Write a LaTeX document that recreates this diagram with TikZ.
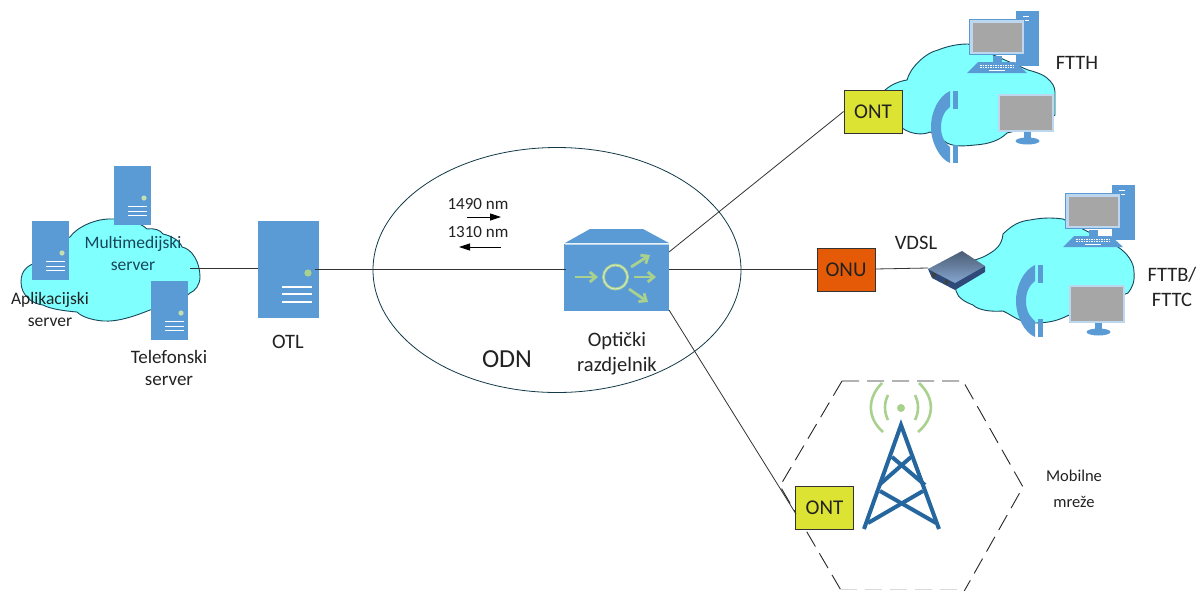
\documentclass[tikz,border=0pt]{standalone}
\usepackage{fontspec}
\setmainfont{Carlito}
\usetikzlibrary{arrows.meta,shapes.geometric}
\definecolor{iconblue}{HTML}{5B9BD5}
\definecolor{iconlight}{HTML}{BDD7EE}
\definecolor{icongreen}{HTML}{A9D18E}
\definecolor{cloudfill}{HTML}{80FFFF}
\definecolor{cloudline}{HTML}{17475A}
\definecolor{screen}{HTML}{A6A6A6}
\definecolor{towerblue}{HTML}{25669F}
\definecolor{ontyellow}{HTML}{DCE332}
\definecolor{onuorange}{HTML}{E55A06}
\definecolor{wire}{HTML}{333333}
\definecolor{ink}{HTML}{222222}
\definecolor{routertop}{HTML}{4A5C72}
\definecolor{routerlow}{HTML}{86A6D0}
\definecolor{routerside}{HTML}{2F4A78}
\tikzset{
  x=1pt,y=-1pt,
  wireline/.style={draw=wire,line width=0.8pt},
  cloudshape/.style={fill=cloudfill,draw=cloudline,line width=0.9pt},
  labeltext/.style={font=\fontsize{17.5}{22}\selectfont,text=ink,align=center,inner sep=0pt},
  bigtext/.style={font=\fontsize{20.5}{25}\selectfont,text=ink,align=center,inner sep=0pt},
  nmtext/.style={font=\fontsize{17}{20}\selectfont,text=ink,inner sep=0pt},
  unitbox/.style={draw=wire,line width=0.8pt,minimum width=58pt,minimum height=43pt,inner sep=0pt,font=\fontsize{21}{24}\selectfont,text=ink},
  blueface/.style={fill=iconblue,draw=none,inner sep=0pt},
  glyph/.style={draw=icongreen,line width=2.8pt},
  barb/.style={-{Straight Barb[length=6pt,width=10pt]}},
  signal/.style={draw=icongreen,line width=2.6pt},
  mast/.style={draw=towerblue,line width=4pt},
  cellside/.style={draw=black!85,line width=0.9pt,dash pattern=on 17pt off 8pt},
  flowarrow/.style={draw=black,line width=0.8pt,-{Triangle[length=11pt,width=7pt]}},
  pics/server/.style={code={
    \fill[iconblue] (0,0) rectangle (37,59);
    \fill[icongreen!70!white] (30,32) circle (2.6);
    \draw[white,line width=1pt] (14,40)--(33,40) (14,45)--(33,45) (14,49)--(33,49);
  }},
  pics/desktop/.style={code={
    \fill[iconblue] (47,0) rectangle (70,55);
    \draw[white,line width=1pt] (54,5)--(60,5) (54,9)--(60,9);
    \fill[iconblue] (0,8) rectangle (56,44);
    \fill[iconlight] (1,9) rectangle (55,43);
    \fill[screen] (4,12) rectangle (53,41);
    \fill[iconblue] (24,45) rectangle (33,51);
    \fill[iconblue] (-2,62) -- (9,51) -- (46,51) -- (58,62) -- cycle;
    \foreach \ky in {54,56.5}{\draw[white,line width=1pt,dash pattern=on 1.5pt off 1pt] (11,\ky)--(45,\ky);}
    \draw[white,line width=1pt] (20,59.5)--(36,59.5);
  }},
  pics/handset/.style={code={
    \fill[iconblue] (8,0) .. controls (-3,5) and (-11,20) .. (-11,36)
      .. controls (-11,52) and (-2,68) .. (8,72) -- (8,56)
      .. controls (1,50) and (-1,44) .. (-1,36)
      .. controls (-1,28) and (2,20) .. (8,16) -- cycle;
    \fill[iconblue] (11,0) rectangle (15.5,18);
    \fill[iconblue] (11,54) rectangle (15.5,72);
  }},
  pics/screenstand/.style={code={
    \fill[iconblue] (26,38) rectangle (33,44);
    \fill[iconblue] (29.5,47) ellipse (12 and 3.5);
    \fill[iconlight] (0,0) rectangle (56,38);
    \fill[screen] (2,2) rectangle (54,36);
  }},
}
\begin{document}
\begin{tikzpicture}
\useasboundingbox (0,0) rectangle (1200,590);
\fill[white] (0,0) rectangle (1200,590);

% distribution ellipse
\node[draw=cloudline!80!black,line width=0.8pt,ellipse,minimum width=368pt,minimum height=245pt,inner sep=0pt] (odn) at (557,270) {};

% clouds
\coordinate (cloudLeft) at (190,268);
\path[cloudshape] (21,282) .. controls (21,270) and (28,265) .. (38,262)
  .. controls (42,248) and (58,240) .. (70,237)
  .. controls (76,228) and (95,218) .. (113,219)
  .. controls (125,219) and (140,222) .. (147,229)
  .. controls (155,228) and (160,230) .. (163,234)
  .. controls (172,236) and (180,241) .. (182,247)
  .. controls (192,249) and (200,262) .. (200,277)
  .. controls (200,285) and (195,291) .. (190,293)
  .. controls (180,303) and (165,308) .. (150,310)
  .. controls (135,316) and (118,322) .. (103,321)
  .. controls (92,320) and (82,317) .. (77,312)
  .. controls (65,311) and (50,309) .. (43,305)
  .. controls (32,304) and (21,295) .. (21,282) -- cycle;
\path[cloudshape] (885,90) .. controls (892,84) and (900,81) .. (907,80)
  .. controls (910,68) and (925,53) .. (938,50)
  .. controls (948,46) and (958,44) .. (968,44)
  -- (1028,70) .. controls (1036,72) and (1044,75) .. (1047,78)
  .. controls (1052,82) and (1055,87) .. (1055,92)
  -- (1055,115) .. controls (1040,125) and (1020,130) .. (1007,133)
  .. controls (1000,140) and (990,144) .. (975,145)
  .. controls (965,146) and (955,147) .. (947,143)
  .. controls (942,140) and (936,134) .. (930,132)
  .. controls (924,135) and (912,135) .. (902,128) -- (890,110) -- cycle;
\path[cloudshape] (965,263) .. controls (975,260) and (982,258) .. (987,255)
  .. controls (996,250) and (1002,245) .. (1003,234)
  .. controls (1012,225) and (1020,221) .. (1030,220)
  .. controls (1045,217) and (1055,218) .. (1063,219)
  -- (1118,247) .. controls (1127,253) and (1134,262) .. (1134,272)
  .. controls (1135,282) and (1132,288) .. (1128,293)
  -- (1067,316) .. controls (1055,322) and (1045,323) .. (1033,323)
  .. controls (1020,323) and (1012,315) .. (1003,311)
  .. controls (990,312) and (978,310) .. (973,305)
  .. controls (965,302) and (958,298) .. (956,291) -- (955,280) -- cycle;

% mobile cell
\draw[cellside] (842,381) -- (963,381) -- (1023,487) -- (962,595);
\draw[cellside] (842,381) -- (780,486) -- (842,592);
\draw[cellside,draw=black!15] (840,589) -- (965,589);

% boxes and icons that carry connectors
\node[blueface,minimum width=61pt,minimum height=97pt] (otl) at (288.5,269.5) {};
\coordinate (otlPort) at (308,273);
\coordinate (otlOut) at (315,269);
\node[blueface,minimum width=105pt,minimum height=67pt] (splitter) at (616.5,277.5) {};
\coordinate (spWest) at (566,269);
\coordinate (spEast) at (669,269);
\coordinate (spUp) at (669,252);
\coordinate (spDown) at (669,310);
\node[unitbox,fill=ontyellow] (ontA) at (873,111.5) {ONT};
\node[unitbox,fill=onuorange] (onu) at (846,270) {ONU};
\node[unitbox,fill=ontyellow] (ontB) at (824.5,507.5) {ONT};
\coordinate (ontBin) at (796,514);
\coordinate (routerIn) at (928,268);
\coordinate (onuOut) at (875,269);
\coordinate (onuIn) at (817,269);
\coordinate (arA1) at (467,217);
\coordinate (arA2) at (501,217);
\coordinate (arB1) at (501,247);
\coordinate (arB2) at (459,247);

% connectors
\draw[wireline] (cloudLeft) -- (otl.west |- cloudLeft);
\draw[wireline] (otlOut) -- (spWest);
\draw[wireline] (spEast) -- (onuIn);
\draw[wireline] (spUp) -- (ontA.west);
\draw[wireline] (spDown) -- (ontBin);
\draw[wireline] (onuOut) -- (routerIn);
\draw[flowarrow] (arA1) -- (arA2);
\draw[flowarrow] (arB1) -- (arB2);

% OTL detail
\fill[icongreen] (otlPort) circle (3.6);
\draw[white,line width=1.3pt] (282,287)--(312,287) (282,294)--(312,294) (282,302)--(312,302);

% splitter detail
\fill[iconblue] (565,243) -- (590,229) -- (643,229) -- (669,243) -- cycle;
\draw[iconlight,line width=0.7pt] (565,244) -- (669,244);
\draw[glyph] (615.5,277) circle (12);
\draw[white!60!icongreen,line width=0.7pt] (615.5,277) circle (12);
\draw[glyph,barb] (575,277) -- (598,277);
\draw[glyph,barb] (631,267) -- (650,255);
\draw[glyph,barb] (634,277) -- (656,277);
\draw[glyph,barb] (629,289) -- (648,302);

% small servers
\pic at (114,166) {server};
\pic at (32,221) {server};
\pic at (151,281) {server};

% subscriber icons
\pic at (969,11) {desktop};
\pic at (1065,185) {desktop};
\pic at (942,91) {handset};
\pic at (1027,265) {handset};
\pic at (998,94) {screenstand};
\pic at (1069,285) {screenstand};

% VDSL router
\fill[routerside] (928,269) -- (932,278) -- (955,290) -- (985,272) -- (985,266) -- cycle;
\shade[top color=routertop,bottom color=routerlow] (928,269) -- (962,251) -- (985,266) -- (955,283) -- cycle;
\fill[black!75] (932,273) rectangle (936,277) (945,280) rectangle (948,284);

% tower
\fill[icongreen] (901,408) circle (4);
\draw[signal] (888,395) .. controls (884,403) and (884,412) .. (888,420);
\draw[signal] (915,395) .. controls (919,403) and (919,412) .. (915,420);
\draw[signal] (882,383) .. controls (867,398) and (867,418) .. (883,432);
\draw[signal] (919,383) .. controls (935,398) and (935,418) .. (918,432);
\draw[mast] (864,529) -- (901,425) -- (939,529);
\draw[mast] (892,457) -- (925,485);
\draw[mast] (911,457) -- (879,485);
\draw[mast] (880,491) -- (936,523);
\draw[mast] (923,491) -- (868,523);

% labels
\node[labeltext,text=cloudline] (mm) at (133,253) {Multimedijski\\server};
\node[labeltext] (ap) at (50,309) {Aplikacijski\\server};
\node[labeltext,font=\fontsize{19}{22}\selectfont] (tel) at (169,368) {Telefonski\\server};
\node[bigtext] (otllab) at (288,342) {OTL};
\node[nmtext] (nmA) at (478,204) {1490 nm};
\node[nmtext] (nmB) at (478,232) {1310 nm};
\node[bigtext,font=\fontsize{26}{28}\selectfont] (odnlab) at (507,359) {ODN};
\node[bigtext] (razd) at (617,354) {Optički\\razdjelnik};
\node[bigtext] (ftth) at (1077,63) {FTTH};
\node[bigtext] (vdsl) at (916,243) {VDSL};
\node[bigtext] (fttb) at (1172,287) {FTTB/\\FTTC};
\node[labeltext,font=\fontsize{16.5}{26}\selectfont] (mob) at (1074,489) {Mobilne\\mreže};
\end{tikzpicture}
\end{document}
